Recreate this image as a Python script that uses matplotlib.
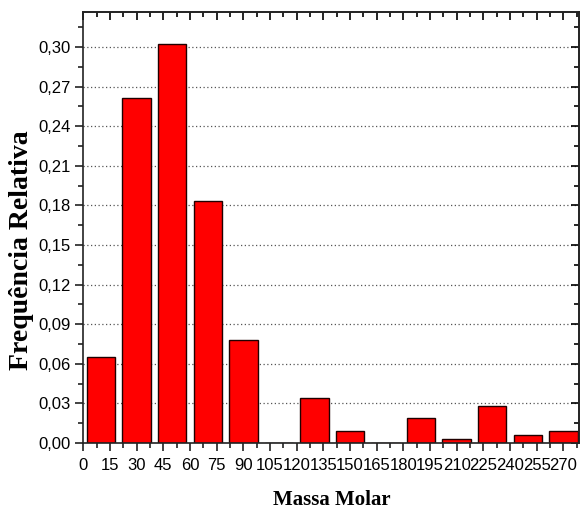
import matplotlib
matplotlib.use('Agg')
import matplotlib.pyplot as plt
from matplotlib.ticker import MultipleLocator, FuncFormatter

# centros das classes (largura 20) e frequencias relativas
massa = [10, 30, 50, 70, 90, 110, 130, 150, 170, 190, 210, 230, 250, 270]
freq = [0.0654, 0.2616, 0.3022, 0.1835, 0.0780, 0.0, 0.0339, 0.0094,
        0.0, 0.0186, 0.0029, 0.0280, 0.0064, 0.0094]

xticks = list(range(0, 271, 15))
yticks = [0.00, 0.03, 0.06, 0.09, 0.12, 0.15, 0.18, 0.21, 0.24, 0.27, 0.30]

fig = plt.figure(figsize=(5.81, 5.11), dpi=100)
ax = fig.add_axes([0.1434, 0.1331, 0.8537, 0.8428])

for y in yticks[1:]:
    ax.axhline(y, color='#555555', linestyle=(0, (1, 2)), linewidth=0.9, zorder=0)

ax.bar(massa, freq, width=16, color='#ff0000', edgecolor='#200000',
       linewidth=1.0, zorder=2)

ax.set_xlim(0, 279)
ax.set_ylim(0, 0.3263)
ax.set_xticks(xticks)
ax.set_xticklabels([str(v) for v in xticks])
ax.set_yticks(yticks)
ax.yaxis.set_major_formatter(FuncFormatter(lambda v, p: ('%.2f' % v).replace('.', ',')))
ax.xaxis.set_minor_locator(MultipleLocator(7.5))
ax.yaxis.set_minor_locator(MultipleLocator(0.015))

for lab in ax.get_xticklabels() + ax.get_yticklabels():
    lab.set_fontfamily('Liberation Sans')
    lab.set_fontsize(12)

ax.tick_params(which='major', direction='out', length=6, width=1.2, color='#222222')
ax.tick_params(which='minor', direction='out', length=3.5, width=1.2, color='#222222')
ax.tick_params(axis='x', which='major', pad=5)
ax.tick_params(axis='y', which='major', pad=3)

top = ax.secondary_xaxis('top')
top.set_xticks(xticks)
top.xaxis.set_minor_locator(MultipleLocator(7.5))
top.tick_params(which='major', direction='in', length=6, width=1.2, labeltop=False)
top.tick_params(which='minor', direction='in', length=3.5, width=1.2)
right = ax.secondary_yaxis('right')
right.set_yticks(yticks)
right.yaxis.set_minor_locator(MultipleLocator(0.015))
right.tick_params(which='major', direction='in', length=6, width=1.2, labelright=False)
right.tick_params(which='minor', direction='in', length=3.5, width=1.2)

for s in list(ax.spines.values()) + [top.spines['top'], right.spines['right']]:
    s.set_linewidth(1.2)
    s.set_color('#222222')

ax.set_xlabel('Massa Molar', fontfamily='Liberation Serif', fontweight='bold', fontsize=15)
ax.set_ylabel('Frequência Relativa', fontfamily='Liberation Serif', fontweight='bold', fontsize=20)
ax.xaxis.set_label_coords(0.5, -0.132)
ax.xaxis.label.set_va('center')
ax.yaxis.set_label_coords(-0.124, 0.447)
ax.yaxis.label.set_va('center')

fig.savefig('out.png', dpi=100)
plt.close()
